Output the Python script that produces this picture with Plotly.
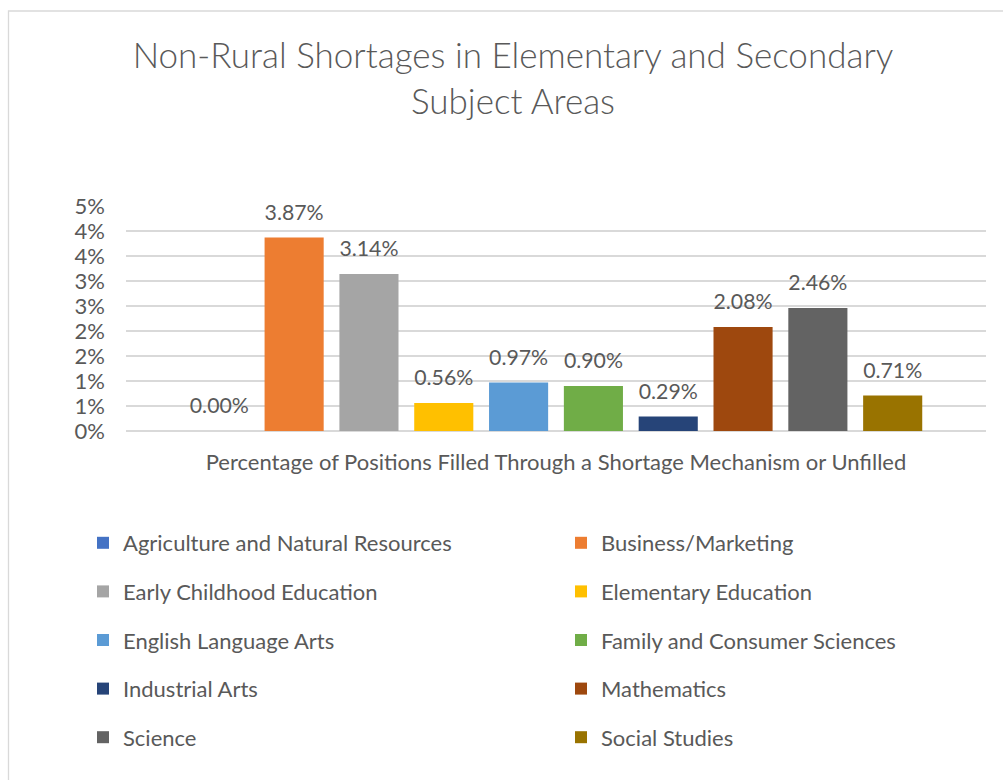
import plotly.graph_objects as go

title_text = "Non-Rural Shortages in Elementary and Secondary<br>Subject Areas"
category = "Percentage of Positions Filled Through a Shortage Mechanism or Unfilled"
subjects = [
    "Agriculture and Natural Resources",
    "Business/Marketing",
    "Early Childhood Education",
    "Elementary Education",
    "English Language Arts",
    "Family and Consumer Sciences",
    "Industrial Arts",
    "Mathematics",
    "Science",
    "Social Studies",
]
values = [0.0000, 0.0387, 0.0314, 0.0056, 0.0097, 0.0090, 0.0029, 0.0208, 0.0246, 0.0071]
colors = ["#4472C4", "#ED7D31", "#A5A5A5", "#FFC000", "#5B9BD5",
          "#70AD47", "#264478", "#9E480E", "#636363", "#997300"]
y_tickvals = [0, 0.005, 0.01, 0.015, 0.02, 0.025, 0.03, 0.035, 0.04, 0.045]
y_ticktext = ["0%", "1%", "1%", "2%", "2%", "3%", "3%", "4%", "4%", "5%"]

FONT = "Lato"
TXT = "#595959"

# layout in pixels
W, H = 1003, 780
L, R = 126, 986
T, B = 206, 431


def px_x(p):
    return (p - L) / (R - L)


def px_y(p):
    return (B - p) / (B - T)


fig = go.Figure()
for i, (name, val, col) in enumerate(zip(subjects, values, colors)):
    fig.add_trace(go.Bar(
        x=[category], y=[val], name=name,
        marker=dict(color=col, line=dict(width=0)),
        texttemplate="<span style='font-size:22px'>%{y:.2%}</span><br> ",
        textposition="outside",
        textfont=dict(family=FONT, size=10, color=TXT),
        cliponaxis=False,
        legend="legend" if i % 2 == 0 else "legend2",
        legendgroup=name,
    ))

legend_common = dict(
    orientation="v", font=dict(family=FONT, size=22, color=TXT),
    bgcolor="rgba(0,0,0,0)", borderwidth=0, itemwidth=30,
    tracegroupgap=17, xref="paper", yref="paper", yanchor="top", xanchor="left",
    itemclick=False, itemdoubleclick=False,
)

fig.update_layout(
    width=W, height=H,
    margin=dict(l=L, r=W - R, t=T, b=H - B, pad=0),
    paper_bgcolor="white", plot_bgcolor="white",
    title=dict(text=title_text, x=513 / W, xref="container", xanchor="center",
               y=1 - 68 / H, yref="container", yanchor="middle",
               font=dict(family=FONT, size=35, color=TXT, weight=300)),
    barmode="group", bargap=0.13, bargroupgap=0.21,
    showlegend=True,
    legend=dict(x=px_x(83), y=px_y(522), **legend_common),
    legend2=dict(x=px_x(561), y=px_y(522), **legend_common),
    xaxis=dict(showline=False, ticks="", showgrid=False,
               tickfont=dict(family=FONT, size=22, color=TXT), ticklabelstandoff=16),
    yaxis=dict(range=[0, 0.045], tickvals=y_tickvals, ticktext=y_ticktext,
               showgrid=True, gridcolor="#D9D9D9", gridwidth=1.5,
               zeroline=True, zerolinecolor="#D9D9D9", zerolinewidth=1.5,
               showline=False, ticks="",
               tickfont=dict(family=FONT, size=22, color=TXT), ticklabelstandoff=20),
    shapes=[dict(type="rect", xref="paper", yref="paper",
                 x0=px_x(8.5), x1=px_x(1030), y0=px_y(800), y1=px_y(11),
                 line=dict(color="#D9D9D9", width=1.3), fillcolor="rgba(0,0,0,0)",
                 layer="below")],
)

fig.write_html("out.html", config={"displayModeBar": False},
               post_script="document.body.style.margin='0px';")
